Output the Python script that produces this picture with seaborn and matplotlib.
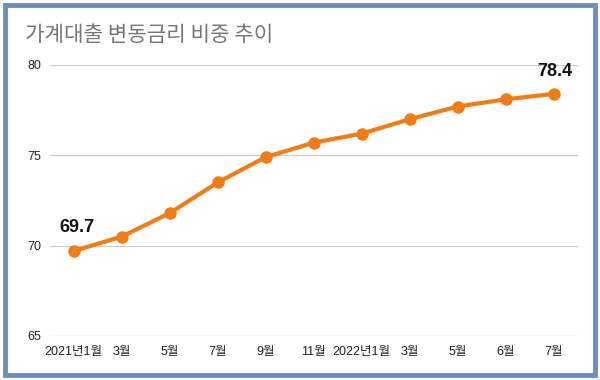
import numpy as np
import matplotlib
matplotlib.use("Agg")
import matplotlib.pyplot as plt
import seaborn as sns
import pandas as pd
from matplotlib.patches import Rectangle

sns.set_style("white")
plt.rcParams['font.family'] = ['Liberation Sans', 'Noto Sans CJK KR', 'DejaVu Sans']

# données
months = ['2021년1월', '3월', '5월', '7월', '9월', '11월', '2022년1월', '3월 ', '5월 ', '6월', '7월 ']
share = [69.7, 70.5, 71.8, 73.5, 74.9, 75.7, 76.2, 77.0, 77.7, 78.1, 78.4]
title = '가계대출 변동금리 비중 추이'

ORANGE = '#F07C14'
BORDER = '#6E8EBF'

df = pd.DataFrame({'month': months, 'share': share, 'pos': np.arange(len(months))})

fig = plt.figure(figsize=(6, 3.8), dpi=100)
ax = fig.add_axes([0.083, 0.116, 0.88, 0.713])

sns.lineplot(data=df, x='pos', y='share', ax=ax, color=ORANGE, linewidth=3,
             marker='o', markersize=9, markeredgewidth=0)

ax.set_xlim(-0.5, len(months) - 0.5)
ax.set_ylim(65, 80)
ax.set_yticks([65, 70, 75, 80])
ax.set_xticks(df['pos'])
ax.set_xticklabels([m.strip() for m in months])
ax.tick_params(axis='both', length=0, labelsize=9, colors='#222222')
ax.tick_params(axis='x', pad=7)
ax.tick_params(axis='y', pad=6)
ax.grid(axis='y', color='#CCCCCC', linewidth=0.9)
ax.set_axisbelow(True)
for s in ax.spines.values():
    s.set_visible(False)
ax.set_xlabel('')
ax.set_ylabel('')

# étiquettes premier / dernier point
ax.annotate(f'{share[0]:.1f}', (0, share[0]), xytext=(2, 11), textcoords='offset points',
            ha='center', va='bottom', fontsize=13, fontweight='bold', color='#111111')
ax.annotate(f'{share[-1]:.1f}', (len(share) - 1, share[-1]), xytext=(1, 10),
            textcoords='offset points', ha='center', va='bottom', fontsize=13,
            fontweight='bold', color='#111111')

fig.text(0.042, 0.908, title, fontsize=15.3, color='#777777', ha='left', va='center',
         family=['Noto Sans CJK KR', 'DejaVu Sans'])

# cadre bleu
fig.patches.append(Rectangle((0.0083, 0.013), 0.983, 0.974, transform=fig.transFigure,
                             fill=False, edgecolor=BORDER, linewidth=3.5))

fig.savefig('out.png', dpi=100)
